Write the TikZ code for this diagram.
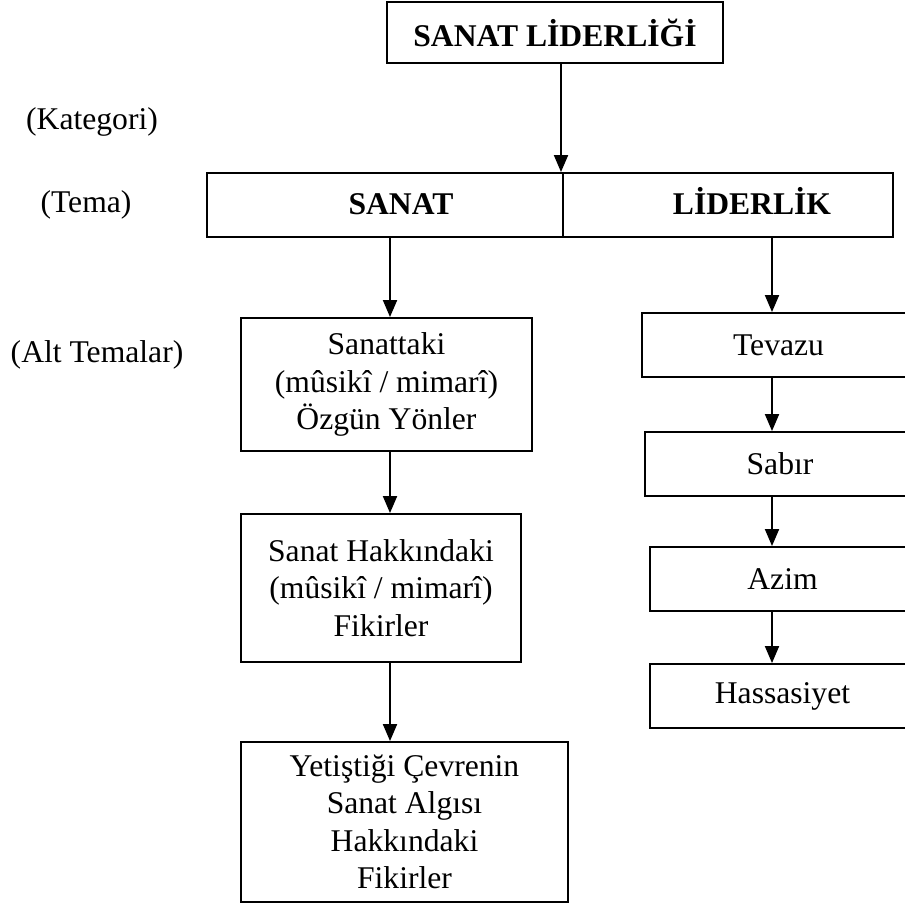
\documentclass[tikz,border=0pt]{standalone}
\usepackage{fontspec}
\setmainfont{Liberation Serif}
\usetikzlibrary{arrows.meta}

\begin{document}
\begin{tikzpicture}[x=0.02cm, y=-0.02cm,
  kutu/.style={draw, line width=1.1pt, inner sep=0pt, align=center, font=\fontsize{18}{21.3}\selectfont},
  tema/.style={kutu, minimum height=1.28cm, text height=0.46cm, text depth=0.08cm, font=\fontsize{18}{21.3}\selectfont\bfseries},
  etiket/.style={inner sep=0pt, font=\fontsize{18}{21.3}\selectfont},
  ok/.style={line width=1.1pt, -{Triangle[length=0.34cm,width=0.28cm]}}]
\clip (0,0) rectangle (905,903);
\node[kutu, minimum width=6.72cm, minimum height=1.22cm, font=\fontsize{18}{21.3}\selectfont\bfseries] (kat) at (555,32.5){SANAT LİDERLİĞİ};
\node[tema, minimum width=7.12cm] (tsanat) at (385,205){\hspace*{0.64cm}SANAT};
\node[tema, minimum width=6.6cm] (tlider) at (728,205){\hspace*{0.96cm}LİDERLİK};
\node[etiket] (lkat) at (92,122){(Kategori)};
\node[etiket] (ltema) at (86,205){(Tema)};
\node[etiket] (lalt) at (97,355){(Alt Temalar)};
\coordinate (lcol) at (390,0);
\coordinate (rcol) at (772,0);
\node[kutu, minimum width=5.82cm, minimum height=2.66cm] (alt1) at (386.5,384.5){Sanattaki\\(mûsikî / mimarî)\\Özgün Yönler};
\node[kutu, minimum width=5.6cm, minimum height=2.96cm] (alt2) at (381,588){Sanat Hakkındaki\\(mûsikî / mimarî)\\Fikirler};
\node[kutu, minimum width=6.54cm, minimum height=3.2cm] (alt3) at (404.5,822){Yetiştiği Çevrenin\\Sanat Algısı\\Hakkındaki\\Fikirler};
\node[kutu, minimum width=5.46cm, minimum height=1.28cm] (tev) at (778.5,345){Tevazu};
\node[kutu, minimum width=5.4cm, minimum height=1.28cm] (sab) at (780,464){Sabır};
\node[kutu, minimum width=5.3cm, minimum height=1.28cm] (azm) at (782.5,579){Azim};
\node[kutu, minimum width=5.3cm, minimum height=1.28cm] (has) at (782.5,696){Hassasiyet};
\draw[ok] ([xshift=0.12cm]kat.south) -- ([xshift=0.12cm]kat.south |- tlider.north);
\draw[ok] (lcol |- tsanat.south) -- (lcol |- alt1.north);
\draw[ok] (lcol |- alt1.south) -- (lcol |- alt2.north);
\draw[ok] (lcol |- alt2.south) -- (lcol |- alt3.north);
\draw[ok] (rcol |- tlider.south) -- (rcol |- tev.north);
\draw[ok] (rcol |- tev.south) -- (rcol |- sab.north);
\draw[ok] (rcol |- sab.south) -- (rcol |- azm.north);
\draw[ok] (rcol |- azm.south) -- (rcol |- has.north);

\end{tikzpicture}
\end{document}
